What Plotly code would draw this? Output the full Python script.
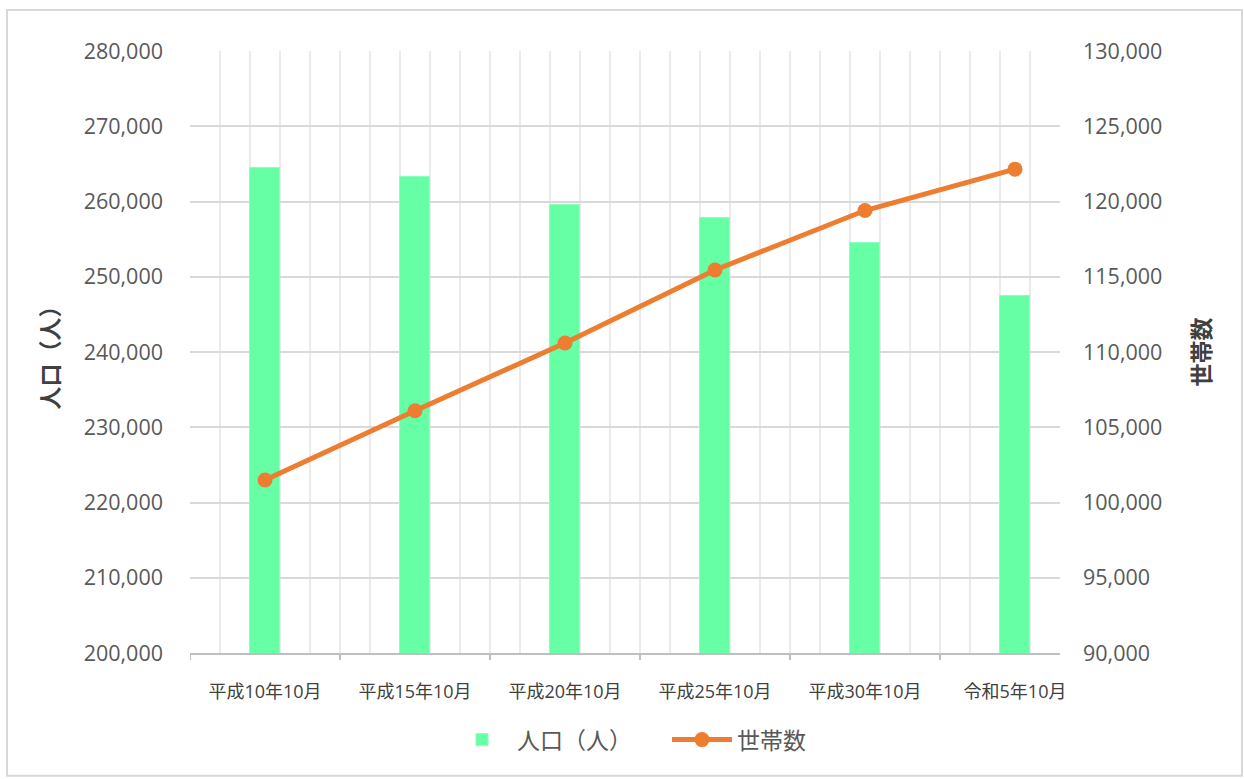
import plotly.graph_objects as go

# ---- data ----
categories = ["平成10年10月", "平成15年10月", "平成20年10月", "平成25年10月", "平成30年10月", "令和5年10月"]
population = [264500, 263200, 259500, 257800, 254500, 247400]
households = [101500, 106100, 110600, 115450, 119400, 122150]
pop_ticks = list(range(200000, 280001, 10000))
hh_ticks = list(range(90000, 130001, 5000))

# category positions on a yearly scale (5 years per category)
xpos = [i * 5 for i in range(len(categories))]
bounds = [p - 2.5 for p in xpos]

FONT = "Open Sans, Noto Sans CJK JP, sans-serif"
GREY = "#595959"

fig = go.Figure()
fig.add_trace(go.Bar(
    x=xpos, y=population, width=1, name="人口（人）",
    marker=dict(color="#66FFA6", line=dict(color="#8CFFBE", width=1)),
    yaxis="y",
))
fig.add_trace(go.Scatter(
    x=xpos, y=households, name="世帯数", mode="lines+markers",
    line=dict(color="#ED7D31", width=5),
    marker=dict(color="#ED7D31", size=15),
    yaxis="y2",
))

# plot area in pixels: x 190..1060, y 50.7..653.3
W, H = 1244, 779
L, R, T, B = 190, 1060, 51, 653.3
pw, ph = R - L, B - T

def px(x):
    return (x - L) / pw

def py(y):
    return (B - y) / ph

shapes = []
for b in bounds:
    shapes.append(dict(type="line", xref="x", yref="paper", x0=b, x1=b,
                       y0=0, y1=-7 / ph, line=dict(color="#BFBFBF", width=2)))
shapes.append(dict(type="rect", xref="paper", yref="paper",
                   x0=px(7), x1=px(1242), y0=py(776), y1=py(10),
                   line=dict(color="#D9D9D9", width=2), layer="below"))

fig.update_layout(
    width=W, height=H,
    margin=dict(l=L, r=W - R, t=T, b=H - B),
    paper_bgcolor="white", plot_bgcolor="white",
    font=dict(family=FONT, color=GREY),
    bargap=0,
    showlegend=True,
    legend=dict(orientation="h", x=px(447), xanchor="left", y=py(740), yanchor="middle",
                font=dict(size=23, color=GREY), itemwidth=60, entrywidth=145,
                traceorder="normal"),
    xaxis=dict(
        range=[-2.5, 26.5], tickvals=xpos, ticktext=categories,
        tickfont=dict(size=18, color="#404040"), ticks="", ticklabelstandoff=21,
        showgrid=False, zeroline=False,
        showline=True, linecolor="#BFBFBF", linewidth=2,
        minor=dict(tick0=0.5, dtick=1, showgrid=True, gridcolor="#EBEBEB", gridwidth=1.5, ticks=""),
    ),
    yaxis=dict(
        range=[200000, 280000], tickvals=pop_ticks, tickformat=",",
        tickfont=dict(size=21.5, color=GREY), ticklabelstandoff=26,
        showgrid=True, gridcolor="#D9D9D9", gridwidth=1.5, zeroline=False,
        showline=False,
        title=dict(text="<b>人口（人）</b>", font=dict(size=23, color="#404040"), standoff=17),
    ),
    yaxis2=dict(
        range=[90000, 130000], tickvals=hh_ticks, tickformat=",",
        overlaying="y", side="right",
        tickfont=dict(size=21.5, color=GREY), ticklabelstandoff=22,
        showgrid=False, zeroline=False, showline=False,
        title=dict(text="<b>世帯数</b>", font=dict(size=23, color="#404040"), standoff=32),
    ),
    shapes=shapes,
)

fig.write_html("out.html", config={"displayModeBar": False},
               post_script="document.body.style.margin='0';document.body.style.overflow='hidden';")
